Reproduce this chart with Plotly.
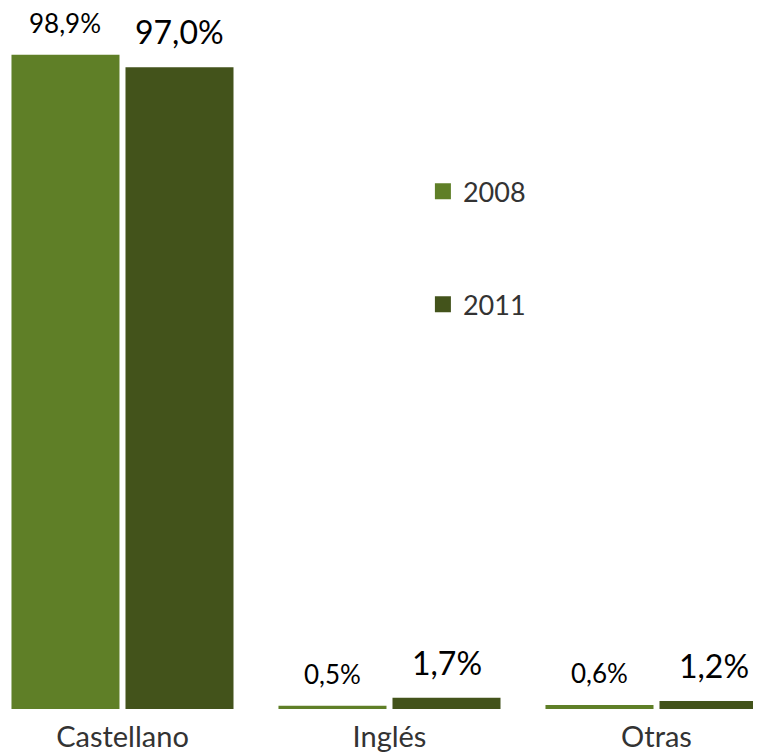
import plotly.graph_objects as go

categories = ["Castellano", "Inglés", "Otras"]
years = ["2008", "2011"]
values_2008 = [98.9, 0.5, 0.6]
values_2011 = [97.0, 1.7, 1.2]
labels_2008 = ["98,9%", "0,5%", "0,6%"]
labels_2011 = ["97,0%", "1,7%", "1,2%"]

colors = {"2008": "#5F7F27", "2011": "#43531B"}
FONT = "Lato, 'Open Sans', sans-serif"

BARGAP = 0.146
BARGROUPGAP = 0.0526

fig = go.Figure()
series = [("2008", values_2008, labels_2008, 26), ("2011", values_2011, labels_2011, 32)]
for name, vals, _, _ in series:
    fig.add_trace(go.Bar(x=categories, y=vals, name=name,
                         marker=dict(color=colors[name], line=dict(width=0)),
                         showlegend=False, hoverinfo="skip"))
# legend entries with larger square symbols
for name, _, _, _ in series:
    fig.add_trace(go.Scatter(x=[None], y=[None], mode="markers", name=name,
                             legendgroup=name,
                             marker=dict(symbol="square", size=16, color=colors[name])))

# value labels above bars
half = (1 - BARGAP) / 4
annotations = []
for k, (name, vals, labs, fsize) in enumerate(series):
    off = -half if k == 0 else half
    for i, (v, t) in enumerate(zip(vals, labs)):
        annotations.append(dict(x=i + off, y=v, xref="x", yref="y", text=t,
                                showarrow=False, yanchor="bottom", yshift=14,
                                font=dict(family=FONT, size=fsize, color="#000000")))

fig.update_layout(
    width=753, height=747,
    margin=dict(l=0, r=0, t=0, b=46),
    paper_bgcolor="white", plot_bgcolor="white",
    barmode="group", bargap=BARGAP, bargroupgap=BARGROUPGAP,
    xaxis=dict(range=[-0.4288, 2.3914], showgrid=False, zeroline=False, showline=False,
               ticks="", automargin=False, ticklabelstandoff=8,
               tickfont=dict(family=FONT, size=29, color="#333333")),
    yaxis=dict(range=[0, 105.97], visible=False, showgrid=False, zeroline=False),
    legend=dict(x=0.551, y=0.773, xanchor="left", yanchor="top",
                font=dict(family=FONT, size=27, color="#333333"),
                tracegroupgap=75, bgcolor="rgba(0,0,0,0)"),
    annotations=annotations,
    font=dict(family=FONT),
)
fig.write_html("out.html")
